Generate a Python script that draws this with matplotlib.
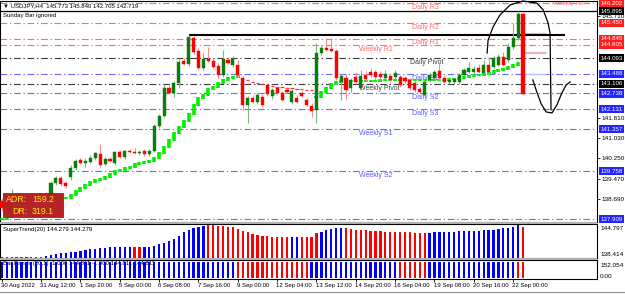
import matplotlib
matplotlib.use("Agg")
import matplotlib.pyplot as plt
import matplotlib.transforms as mtrans
from matplotlib.patches import Rectangle
import numpy as np

plt.rcParams['font.family'] = ['Liberation Sans', 'DejaVu Sans']

# ---------------- data (USDJPY H4) ----------------
opens = [138.61, 138.27, 138.38, 138.53, 138.34, 138.46, 138.61, 138.42, 138.65, 138.80,
         138.84, 139.30, 139.49, 139.30, 139.53, 139.88, 140.19, 140.07, 140.11, 140.26,
         140.42, 140.03, 140.22, 140.07, 140.49, 140.30, 140.53, 140.49, 140.45, 140.53,
         140.42, 140.53, 141.49, 141.88, 142.95, 142.76, 143.14, 143.99, 143.87, 144.87,
         144.37, 143.72, 144.06, 143.99, 143.80, 143.45, 144.03, 143.83, 143.83, 143.33,
         142.30, 142.57, 142.41, 142.61, 143.07, 142.64, 142.95, 142.76, 142.87, 142.41,
         142.57, 142.76, 142.49, 142.26, 142.11, 144.29, 144.49, 144.45, 144.37, 143.18,
         143.33, 142.95, 143.37, 142.95, 143.45, 143.56, 143.56, 143.49, 143.33, 143.41,
         143.37, 143.37, 143.33, 143.26, 143.14, 142.91, 142.68, 143.26, 143.33, 143.60,
         143.33, 143.18, 143.18, 143.18, 143.45, 143.56, 143.56, 143.72, 143.53, 143.83,
         143.76, 143.83, 144.14, 144.03, 144.53, 144.87, 145.773]
highs = [138.73, 138.46, 139.07, 138.65, 138.57, 138.69, 138.77, 138.80, 138.88, 138.96,
         139.38, 139.57, 139.57, 139.38, 139.99, 140.22, 140.26, 140.26, 140.38, 140.49,
         140.80, 140.30, 140.30, 140.53, 140.57, 140.57, 140.61, 140.65, 140.57, 140.61,
         140.61, 141.57, 141.95, 143.07, 143.07, 143.22, 144.10, 144.10, 144.99, 144.95,
         144.49, 144.29, 144.53, 144.10, 143.91, 144.41, 144.14, 144.18, 144.03, 143.41,
         142.64, 142.68, 142.76, 142.72, 143.14, 142.95, 143.03, 142.84, 142.95, 142.91,
         142.68, 142.84, 142.57, 142.37, 144.68, 144.60, 144.87, 144.87, 144.45, 143.49,
         143.49, 143.33, 143.56, 143.64, 143.60, 143.72, 143.64, 143.60, 143.64, 143.53,
         143.64, 143.45, 143.41, 143.33, 143.26, 142.99, 143.26, 143.56, 143.64, 143.95,
         143.41, 143.37, 143.37, 143.53, 143.72, 143.95, 143.80, 143.87, 144.03, 144.14,
         144.18, 144.26, 144.33, 144.68, 145.45, 145.895, 145.840]
lows = [138.23, 138.11, 138.15, 138.27, 138.19, 138.30, 138.34, 138.30, 138.46, 138.53,
        138.77, 139.23, 139.19, 139.11, 139.42, 139.80, 140.03, 139.92, 140.07, 140.19,
        139.92, 139.96, 140.11, 139.99, 140.26, 140.22, 140.45, 140.42, 140.38, 140.34,
        140.34, 140.49, 141.41, 141.84, 142.72, 142.61, 142.95, 143.83, 143.80, 144.26,
        143.64, 143.64, 143.95, 143.72, 143.33, 143.37, 143.87, 143.76, 143.37, 142.11,
        141.61, 142.37, 142.34, 142.22, 142.64, 142.53, 142.68, 142.45, 142.76, 142.34,
        142.37, 142.61, 142.26, 141.84, 141.61, 144.22, 144.37, 144.33, 143.26, 142.49,
        142.53, 142.80, 143.10, 142.87, 143.22, 143.37, 143.26, 143.30, 143.26, 143.18,
        143.30, 142.99, 143.14, 142.87, 142.80, 142.72, 142.64, 143.18, 143.26, 143.26,
        143.10, 143.10, 143.10, 143.10, 143.41, 143.53, 143.49, 143.53, 143.49, 143.45,
        143.72, 143.80, 143.80, 143.95, 144.45, 144.79, 142.705]
closes = [138.34, 138.42, 138.53, 138.38, 138.50, 138.61, 138.46, 138.69, 138.80, 138.69,
          139.30, 139.49, 139.26, 139.19, 139.88, 140.15, 140.07, 140.15, 140.26, 140.45,
          139.99, 140.22, 140.15, 140.49, 140.30, 140.53, 140.49, 140.45, 140.49, 140.42,
          140.53, 141.49, 141.88, 142.95, 142.76, 143.14, 143.95, 143.87, 144.91, 144.33,
          143.72, 144.06, 143.99, 143.76, 143.45, 144.06, 143.91, 144.06, 143.45, 142.30,
          142.57, 142.41, 142.68, 142.30, 142.72, 142.87, 142.76, 142.49, 142.80, 142.84,
          142.41, 142.64, 142.30, 142.07, 144.29, 144.49, 144.41, 144.37, 143.33, 143.41,
          142.87, 143.26, 143.18, 143.41, 143.30, 143.45, 143.37, 143.37, 143.49, 143.26,
          143.53, 143.07, 143.22, 142.95, 142.87, 142.80, 143.18, 143.45, 143.56, 143.33,
          143.18, 143.26, 143.30, 143.45, 143.64, 143.72, 143.68, 143.56, 143.83, 143.56,
          144.10, 144.14, 143.83, 144.53, 144.87, 145.79, 142.719]

# trend line drawn on the price chart (support = green, resistance = red)
trend_support = [137.92, 138.00, 138.07, 138.15, 138.23, 138.27, 138.34, 138.38, 138.46, 138.57,
                 138.65, 138.69, 138.73, 138.73, 138.84, 139.00, 139.11, 139.23, 139.34, 139.42,
                 139.46, 139.53, 139.65, 139.76, 139.80, 139.88, 139.92, 140.03, 140.07, 140.11,
                 140.15, 140.26, 140.45, 140.69, 140.95, 141.22, 141.45, 141.68, 141.95, 142.30,
                 142.57, 142.68, 142.91, 142.99, 143.14, 143.26, 143.33, 143.37, 143.41, None,
                 None, None, None, None, None, None, None, None, None, None,
                 None, None, None, None, 142.61, 142.80, 142.95, 143.10, 143.18, 143.22,
                 143.22, 143.22, 143.22, 143.22, 143.22, 143.22, 143.22, 143.26, 143.26, 143.26,
                 143.26, 143.26, 143.26, 143.26, 143.26, 143.26, 143.26, 143.26, 143.26, 143.26,
                 143.26, 143.30, 143.30, 143.33, 143.37, 143.41, 143.45, 143.45, 143.49, 143.53,
                 143.60, 143.64, 143.68, 143.76, 143.83, 143.91, 143.99]
trend_resist = [None] * 49 + [143.30, 143.26, 143.18, 143.14, 143.10, 143.07, 143.03, 142.99,
                              142.99, 142.95, 142.95, 142.91, 142.91, 142.87, 142.87] + [None] * 43

# SuperTrend(20) sub-window histogram
supertrend_vals = [137.60, 137.60, 137.60, 137.60, 137.60, 137.60, 137.60, 137.60, 137.60, 137.86,
                   138.04, 138.29, 138.47, 138.63, 138.73, 138.88, 139.06, 139.31, 139.49, 139.57,
                   139.75, 139.90, 140.00, 140.00, 140.00, 140.00, 140.00, 140.00, 140.00, 140.15,
                   140.15, 140.41, 140.77, 141.17, 141.61, 142.12, 142.96, 143.83, 144.41, 144.85,
                   145.26, 145.43, 145.69, 145.61, 145.51, 145.43, 145.26, 145.10, 144.67, 144.23,
                   143.83, 143.39, 143.14, 142.96, 142.88, 142.70, 142.70, 142.70, 142.70, 142.70,
                   142.70, 142.70, 142.70, 142.70, 143.57, 143.98, 144.41, 144.67, 144.85, 145.00,
                   144.85, 144.67, 144.49, 144.41, 144.33, 144.23, 144.16, 144.08, 143.98, 143.98,
                   143.90, 143.90, 143.83, 143.83, 143.73, 143.73, 143.65, 143.73, 143.83, 143.83,
                   143.90, 143.98, 143.98, 144.08, 144.08, 144.16, 144.16, 144.23, 144.33, 144.41,
                   144.49, 144.67, 144.85, 145.00, 145.26, 145.69, 145.26]
supertrend_up = ([0] * 9 + [1] * 18 + [0] * 2 + [1] * 13 + [0] * 17 + [1] * 2 + [0] * 4
                 + [1] * 5 + [0] * 17 + [1] * 19 + [0] * 2)

# Bar Bands(20,1) sub-window
barbands_val = [152.054] * 107
barbands_up = [1] * 48 + [0] * 15 + [1] * 18 + [0] * 6 + [1] * 18 + [0] * 2

# pivot levels
levels = [146.202, 145.450, 144.845, 144.605, 144.093, 143.488, 143.106, 142.738, 142.131,
          141.357, 139.758, 137.909]
level_names = ["Daily R3", "Daily R2", "Daily R1", "Weekly R1", "Daily Pivot", "Daily S1",
               "Weekly Pivot", "Daily S2", "Daily S3", "Weekly S1", "Weekly S2", "Weekly S3"]
level_kind = ["R", "R", "R", "R", "P", "S", "P", "S", "S", "S", "S", "S"]

last_high = 145.895
swing_high = 144.99

time_labels = ["30 Aug 2022", "31 Aug 12:00", "1 Sep 20:00", "5 Sep 00:00", "6 Sep 08:00",
               "7 Sep 16:00", "9 Sep 00:00", "12 Sep 04:00", "13 Sep 12:00", "14 Sep 20:00",
               "16 Sep 04:00", "19 Sep 08:00", "20 Sep 16:00", "22 Sep 00:00"]
label_step = 8

# price-scale ticks not hidden behind level boxes
tick_vals = [138.690, 139.470, 140.250, 141.030, 141.810, 145.710]

# hand-drawn annotation (bar index, price)
sketch_arc = [(98.7, 144.29), (98.9, 144.79), (99.9, 145.29), (101.3, 145.75), (103.4, 146.14),
              (106.0, 146.29), (108.8, 146.21), (110.1, 145.95), (111.1, 145.45), (111.5, 145.06),
              (111.7, 142.11)]
sketch_hook = [(108.0, 143.26), (108.8, 142.80), (109.7, 142.34), (110.7, 142.03), (111.9, 141.99),
               (112.9, 142.30), (113.9, 142.76), (114.8, 143.07), (115.6, 143.18)]

# ---------------- figure ----------------
W, H = 625, 295
fig = plt.figure(figsize=(W / 100, H / 100), dpi=100)
fig.patch.set_facecolor('white')


def box(x0, y0, x1, y1):
    return [x0 / W, 1 - y1 / H, (x1 - x0) / W, (y1 - y0) / H]


ax = fig.add_axes(box(0, 1, 597, 222))
ax2 = fig.add_axes(box(0, 224, 597, 258))
ax3 = fig.add_axes(box(0, 260, 597, 279))

n = len(opens)
x = np.arange(n)
XL = (-0.37, 121.05)
for a in (ax, ax2, ax3):
    a.set_xlim(*XL)
    for s in a.spines.values():
        s.set_color('black')
        s.set_linewidth(0.8)
    a.set_facecolor('white')

ax.set_ylim(137.803, 146.290)

# pivot lines
col_line = {"R": "#ff6a6a", "P": "#3a3a3a", "S": "#6b6bff"}
col_text = {"R": "#ff6a6a", "P": "#404040", "S": "#5a5aff"}
for lv, nm, k in zip(levels, level_names, level_kind):
    ax.axhline(lv, color=col_line[k], lw=0.8, dashes=(6, 2.5, 1.2, 2.5), zorder=1)
    if nm == "Weekly S3":
        continue
    xt = 72.6 if nm.startswith("Weekly") else 83.4
    if nm == "Daily Pivot":
        xt = 83.0
    ax.text(xt, lv - 0.03, nm, color=col_text[k], fontsize=5, va='top', ha='left',
            clip_on=True, zorder=2)
ax.text(112.1, 146.285, "Weekly R2", color=col_text["R"], fontsize=4.6, va='top', ha='left',
        clip_on=True, zorder=2)

# black horizontal lines
ax.axhline(last_high, color='black', lw=0.9, zorder=3)
ax.hlines(swing_high, 38, 114.6, color='black', lw=1.5, zorder=3)

# faint segments near last bars
ax.hlines([145.06, 144.33], 105.6, 110.6, color='#ffb0b0', lw=1.0, zorder=2)
ax.hlines([144.31, 143.49], 105.6, 110.6, color='#b8c0ff', lw=1.0, zorder=2)

# trend line blocks
sup = np.array([np.nan if v is None else v for v in trend_support], dtype=float)
for i in range(n):
    if np.isnan(sup[i]):
        continue
    prev = sup[i - 1] if i > 0 and not np.isnan(sup[i - 1]) else sup[i]
    lo, hi = min(prev, sup[i]) - 0.04, max(prev, sup[i]) + 0.04
    ax.vlines(i, lo, hi, color='#00f000', lw=2.6, zorder=4)
res = np.array([np.nan if v is None else v for v in trend_resist], dtype=float)
ok = ~np.isnan(res)
ax.hlines(res[ok], x[ok] - 0.35, x[ok] + 0.35, color='#ff3030', lw=0.9, zorder=4)

# candles
o = np.array(opens); h = np.array(highs); l = np.array(lows); c = np.array(closes)
bull = c >= o
wick_cols = np.where(bull, '#7fb87f', '#ff8a8a')
body_cols = np.where(bull, '#0a7d0a', '#ff0000')
ax.vlines(x, l, h, colors=wick_cols, lw=0.8, zorder=5)
heights = np.maximum(np.abs(c - o), 0.035)
ax.bar(x, heights, bottom=np.minimum(o, c), width=0.62, color=body_cols,
       edgecolor=body_cols, lw=0.3, zorder=6)

# sketch
ax.plot(*zip(*sketch_arc), color='black', lw=0.9, zorder=7, clip_on=False)
ax.plot(*zip(*sketch_hook), color='black', lw=0.9, zorder=7, clip_on=False)

# price axis
ax.yaxis.tick_right()
ax.set_yticks(tick_vals)
ax.set_yticklabels([f"{v:.3f}" for v in tick_vals])
ax.tick_params(axis='y', length=2, width=0.6, labelsize=4.6, pad=1.5, colors='black')
ax.set_xticks([])

blend = mtrans.blended_transform_factory(ax.transAxes, ax.transData)
box_levels = [(146.202, '#ff1e1e'), (145.895, 'black'), (145.450, '#ff1e1e'),
              (144.845, '#ff1e1e'), (144.605, '#ff1e1e'), (144.093, 'black'),
              (143.488, '#2424ff'), (143.106, 'black'), (142.738, '#2424ff'),
              (142.131, '#2424ff'), (141.357, '#2424ff'), (139.758, '#2424ff'),
              (137.909, '#2424ff')]
for v, colr in box_levels:
    ax.text(1.006, v, f"{v:.3f}", transform=blend, color='white', fontsize=4.4,
            va='center', ha='left', clip_on=False, zorder=10,
            bbox=dict(boxstyle='square,pad=0.25', fc=colr, ec='none'))

# header texts
fig.text(3 / W, 1 - 5.5 / H, "\u25bc USDJPY,H4  145.773 145.840 142.705 142.719", fontsize=4.3,
         va='center', ha='left', color='black', zorder=20)
fig.text(3 / W, 1 - 15.5 / H, "Sunday Bar ignored", fontsize=4.3, va='center', ha='left',
         color='black', zorder=20)

# ADR box
ax.add_patch(Rectangle((3 / 597, 5 / 221), 60 / 597, 24 / 221, transform=ax.transAxes,
                       fc='#b52424', ec='#801010', lw=0.5, zorder=8))
for tx, xx, yy in [("ADR:", 6, 199.5), ("159.2", 32, 199.5), ("DR:", 12, 211), ("319.1", 32, 211)]:
    ax.text(xx / 597, (222 - yy) / 221, tx, transform=ax.transAxes, fontsize=6.3,
            color='#ffe21a', va='center', ha='left', zorder=9)

# SuperTrend panel
st = np.array(supertrend_vals)
st_bottom = 137.266
ax2.set_ylim(st_bottom, 145.945)
st_cols = np.where(np.array(supertrend_up) == 1, '#0000ff', '#ff0000')
ax2.bar(x, st - st_bottom, bottom=st_bottom, width=0.45, color=st_cols, lw=0, zorder=3)
ax2.set_xticks([]); ax2.set_yticks([])
ax2.text(3 / 597, (258 - 229) / 34, "SuperTrend(20) 144.279 144.279", transform=ax2.transAxes,
         fontsize=4.3, va='center', ha='left', zorder=2)

# Bar Bands panel
ax3.set_ylim(-6.4, 167.6)
bb_cols = np.where(np.array(barbands_up) == 1, '#0000ff', '#ff0000')
ax3.bar(x, barbands_val, width=0.45, color=bb_cols, lw=0, zorder=3)
ax3.set_yticks([])
ax3.text(3 / 597, (279 - 264) / 19, "Bar Bands (20,1) -1.000 144.811 -1.000 144.811 144.811",
         transform=ax3.transAxes, fontsize=4.3, va='center', ha='left', zorder=2)
lab_idx = [i * label_step for i in range(len(time_labels))]
ax3.set_xticks(lab_idx)
ax3.set_xticklabels([])
ax3.tick_params(axis='x', length=2, width=0.6, direction='out')
tb = mtrans.blended_transform_factory(ax3.transData, ax3.transAxes)
for idx, t in zip(lab_idx, time_labels):
    ax3.text(idx - 0.2, -0.33, t, transform=tb, fontsize=4.3, va='center', ha='left',
             clip_on=False)

# sub-window scale labels
for txt, yy in [("144.797", 229), ("138.414", 254), ("152.054", 265.5), ("0.00", 276)]:
    fig.text(600 / W, 1 - yy / H, txt, fontsize=4.6, va='center', ha='left')

# window separators / bottom bar
fig.patches.append(Rectangle((0, 1 - 224 / H), 597 / W, 2 / H, transform=fig.transFigure,
                             fc='#b0b0b0', ec='none'))
fig.patches.append(Rectangle((0, 1 - 260 / H), 597 / W, 2 / H, transform=fig.transFigure,
                             fc='#b0b0b0', ec='none'))
fig.lines.append(plt.Line2D([0, 1], [1 - 292 / H, 1 - 292 / H], transform=fig.transFigure,
                            color='#909090', lw=0.8))

fig.savefig("out.png", dpi=100, facecolor='white')
